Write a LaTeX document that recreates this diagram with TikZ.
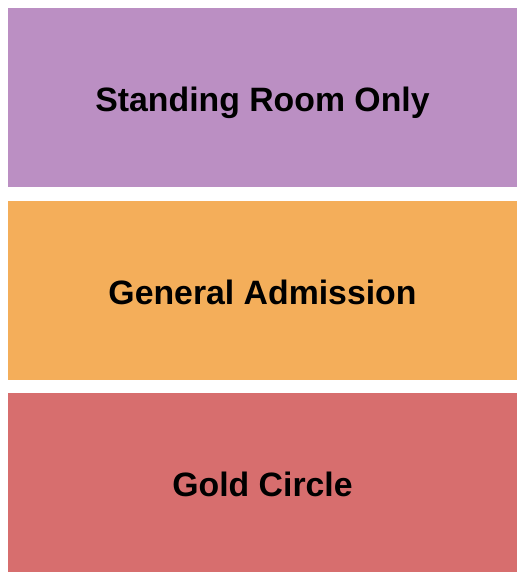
\documentclass[tikz,border=0pt]{standalone}
\usepackage{fontspec}
\setmainfont{Liberation Sans}
\usetikzlibrary{positioning}

\definecolor{srocolor}{RGB}{187,143,195}
\definecolor{gacolor}{RGB}{244,174,90}
\definecolor{gccolor}{RGB}{215,110,110}

\begin{document}
\begin{tikzpicture}[%
    sectionnode/.style={
        rectangle,
        minimum width = 509pt,
        minimum height = 179pt,
        inner sep = 0pt,
        outer sep = 0pt,
        text height = 28pt,
        text depth = 0pt,
        font = \fontsize{33.8}{40}\selectfont\bfseries,
        text = black
        },
]

\useasboundingbox[fill=white] (0,0) rectangle (525pt,-580pt);

\node[sectionnode, fill=srocolor] (sro) at (262.5pt,-97.5pt) {Standing Room Only};
\node[sectionnode, fill=gacolor, below=14pt of sro] (ga) {General Admission};
\node[sectionnode, fill=gccolor, below=13pt of ga] (gc) {Gold Circle};
\end{tikzpicture}
\end{document}
